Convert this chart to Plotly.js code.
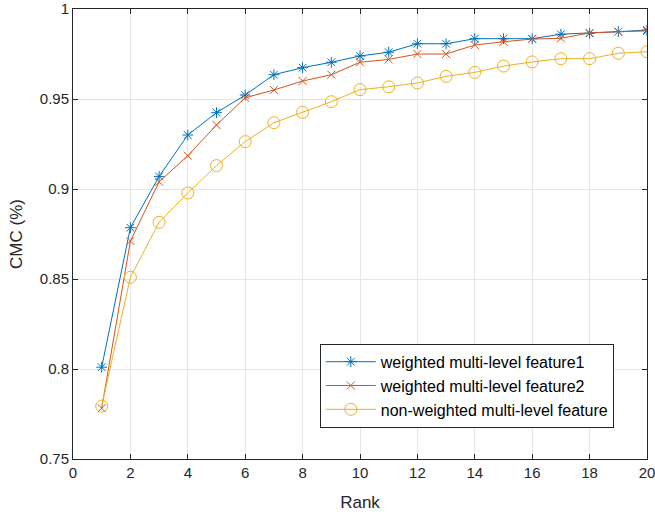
<!DOCTYPE html>
<html>
<head>
<meta charset="utf-8">
<script src="https://cdn.plot.ly/plotly-3.0.1.min.js"></script>
<style>html,body{margin:0;padding:0;background:#fff;}#chart{width:655px;height:516px;}</style>
</head>
<body>
<div id="chart"></div>
<script>
const ranks = [1,2,3,4,5,6,7,8,9,10,11,12,13,14,15,16,17,18,19,20];
const feature1 = [0.801,0.8785,0.907,0.930,0.9424,0.9522,0.9635,0.9674,0.9704,0.9739,0.976,0.9807,0.9807,0.9835,0.9835,0.9835,0.986,0.9865,0.9874,0.9883];
const feature2 = [0.7782,0.8711,0.904,0.9185,0.9356,0.9507,0.955,0.960,0.9635,0.9704,0.972,0.975,0.975,0.980,0.9818,0.9833,0.9837,0.9867,0.9874,0.9878];
const nonWeighted = [0.7794,0.851,0.8815,0.8978,0.913,0.9263,0.9368,0.9426,0.9485,0.9552,0.9568,0.9589,0.9626,0.9648,0.9683,0.9706,0.9724,0.9724,0.9754,0.9763];
const seriesNames = ['weighted multi-level feature1','weighted multi-level feature2','non-weighted multi-level feature'];
const xTicks = [0,2,4,6,8,10,12,14,16,18,20];
const yTicks = [0.75,0.8,0.85,0.9,0.95,1];
const yTickText = ['0.75','0.8','0.85','0.9','0.95','1'];

const traces = [
  {x: ranks, y: feature1, name: seriesNames[0], mode: 'lines+markers', type: 'scatter',
   line: {color: '#0072BD', width: 1}, marker: {symbol: 'asterisk-open', size: 9, color: '#0072BD', line: {color: '#0072BD', width: 1}}},
  {x: ranks, y: feature2, name: seriesNames[1], mode: 'lines+markers', type: 'scatter',
   line: {color: '#D95319', width: 1}, marker: {symbol: 'x-thin-open', size: 8, color: '#D95319', line: {color: '#D95319', width: 1}}},
  {x: ranks, y: nonWeighted, name: seriesNames[2], mode: 'lines+markers', type: 'scatter',
   line: {color: '#EDB120', width: 1}, marker: {symbol: 'circle-open', size: 12, color: '#EDB120', line: {color: '#EDB120', width: 1}}}
];

const axisCommon = {
  showline: true, linecolor: '#262626', linewidth: 1, mirror: 'ticks',
  ticks: 'inside', ticklen: 5, tickcolor: '#262626', tickwidth: 1,
  showgrid: true, gridcolor: '#e6e6e6', gridwidth: 1, zeroline: false,
  ticklabeloverflow: 'allow',
  tickfont: {family: 'Liberation Sans, Arial, sans-serif', size: 15, color: '#262626'}
};

const layout = {
  width: 655, height: 516,
  margin: {l: 73, r: 8, t: 9, b: 57},
  paper_bgcolor: '#fff', plot_bgcolor: '#fff',
  showlegend: true,
  xaxis: Object.assign({}, axisCommon, {
    range: [0, 20], tickvals: xTicks, ticktext: xTicks.map(String),
    title: {text: 'Rank', font: {family: 'Liberation Sans, Arial, sans-serif', size: 17, color: '#262626'}, standoff: 16}
  }),
  yaxis: Object.assign({}, axisCommon, {
    range: [0.75, 1], tickvals: yTicks, ticktext: yTickText,
    title: {text: 'CMC (%)', font: {family: 'Liberation Sans, Arial, sans-serif', size: 17, color: '#262626'}, standoff: 12}
  }),
  legend: {
    x: 0.43, y: 0.256, xanchor: 'left', yanchor: 'top',
    bgcolor: '#fff', bordercolor: '#262626', borderwidth: 1,
    font: {family: 'Liberation Sans, Arial, sans-serif', size: 16, color: '#000'},
    itemwidth: 50, tracegroupgap: 0
  }
};

Plotly.newPlot('chart', traces, layout, {displayModeBar: false, staticPlot: true});
</script>
</body>
</html>
